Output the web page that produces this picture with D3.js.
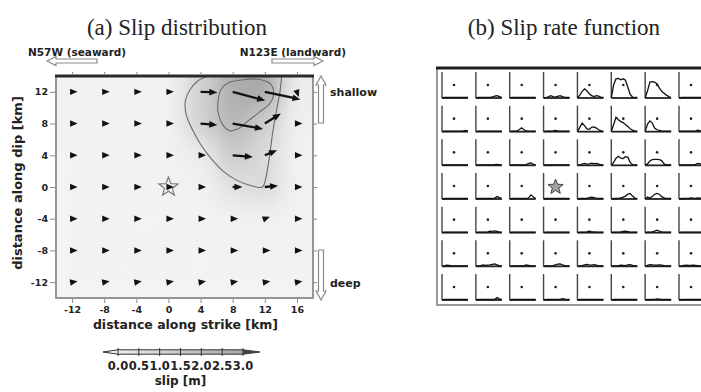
<!DOCTYPE html>
<html><head><meta charset="utf-8">
<script src="https://cdn.jsdelivr.net/npm/d3@7"></script>
<style>body{margin:0;background:#fff} svg{display:block}</style>
</head><body>
<svg id="c" width="701" height="392"></svg>
<script>
// ---------- DATA ----------
const strikeKm = [-12, -8, -4, 0, 4, 8, 12, 16];      // subfault centres along strike
const dipKm    = [12, 8, 4, 0, -4, -8, -12];           // subfault centres along dip
const xTicks = [-12, -8, -4, 0, 4, 8, 12, 16];
const yTicks = [12, 8, 4, 0, -4, -8, -12];
const slipTicks = [0, 0.5, 1.0, 1.5, 2.0, 2.5, 3.0];
const slipTickLabels = ["0.0","0.5","1.0","1.5","2.0","2.5","3.0"];

// slip amount (m) per subfault, one array per dip row
const slipRow12 = [0.12, 0.15, 0.12, 0.15, 1.2, 2.4, 2.6, 0.3];
const slipRow8  = [0.12, 0.12, 0.12, 0.12, 1.2, 2.2, 1.35, 0.2];
const slipRow4  = [0.1, 0.12, 0.1, 0.12, 0.3, 1.45, 0.95, 0.15];
const slipRow0  = [0.1, 0.15, 0.12, 0.12, 0.12, 0.7, 0.95, 0.12];
const slipRowM4 = [0.1, 0.12, 0.1, 0.1, 0.12, 0.12, 0.2, 0.12];
const slipRowM8 = [0.1, 0.12, 0.1, 0.12, 0.1, 0.12, 0.12, 0.12];
const slipRowM12= [0.1, 0.1, 0.1, 0.1, 0.1, 0.1, 0.1, 0.1];
// slip direction on the map (deg, 0 = toward N123E, positive = toward deep side)
const dirRow12  = [0, 0, 0, 0, 2, 15, 12, 70];
const dirRow8   = [0, 0, 0, 0, 5, 10, -32, 0];
const dirRow4   = [0, 0, 0, 0, 0, 5, -22, 0];
const dirRow0   = [0, 0, 0, 0, 0, 0, -5, 0];
const dirRowM4  = [0, 0, 0, 0, 0, 0, -20, 0];
const dirRowM8  = [0, 0, 0, 0, 0, 0, 0, 0];
const dirRowM12 = [-10, -10, -10, -10, -10, -10, -10, -10];

const hypocenter = [0, 0];
// slip contour lines (km)
const outerContour = [[4.9,14],[3.7,13.4],[2.7,12.3],[2.1,10.8],[2.2,9.2],[2.9,7.4],[4.0,5.4],[5.3,3.6],[6.8,2.0],[8.4,0.9],[10.0,0.25],[11.7,0.0],[12.2,1.5],[12.6,4.0],[13.0,7.0],[13.5,9.9],[13.9,12.1],[14.1,14]];
const innerContour = [[9.1,13.5],[7.6,13.2],[6.6,12.4],[6.2,11.0],[6.2,9.3],[6.8,7.8],[7.6,7.1],[8.6,7.3],[10.0,8.4],[11.4,9.5],[12.6,10.5],[13.1,11.7],[12.7,13.0],[11.2,13.6]];

// slip-rate functions (normalised), one array of cells per dip row
const srfRow12 = [
 [0,0.02,0.02,0.02,0.02,0.02,0.02,0.02,0.02,0.02,0.02,0.02],
 [0,0.02,0.02,0.02,0.02,0.02,0.03,0.05,0.08,0.1,0.06,0.02],
 [0,0.02,0.02,0.02,0.02,0.02,0.02,0.02,0.02,0.02,0.02,0.02],
 [0,0.02,0.05,0.1,0.06,0.04,0.07,0.1,0.06,0.03,0.02,0.02],
 [0,0.12,0.28,0.38,0.3,0.18,0.1,0.06,0.1,0.08,0.03,0.02],
 [0,0.55,0.8,0.82,0.76,0.8,0.74,0.45,0.15,0.04,0.02,0.02],
 [0,0.3,0.66,0.68,0.66,0.6,0.42,0.28,0.2,0.12,0.06,0.02],
 [0,0.02,0.02,0.02,0.02,0.02,0.02,0.02,0.02,0.02,0.02,0.02]];
const srfRow8 = [
 [0,0.02,0.02,0.02,0.02,0.02,0.02,0.02,0.02,0.03,0.05,0.02],
 [0,0.02,0.02,0.02,0.02,0.02,0.02,0.02,0.02,0.02,0.02,0.02],
 [0,0.02,0.02,0.03,0.08,0.16,0.08,0.03,0.02,0.02,0.02,0.02],
 [0,0.02,0.02,0.02,0.03,0.05,0.03,0.02,0.02,0.02,0.02,0.02],
 [0,0.18,0.36,0.25,0.12,0.1,0.18,0.2,0.15,0.08,0.03,0.02],
 [0,0.3,0.6,0.5,0.42,0.38,0.3,0.22,0.12,0.06,0.02,0.02],
 [0,0.32,0.45,0.36,0.15,0.08,0.05,0.03,0.02,0.02,0.02,0.02],
 [0,0.02,0.02,0.02,0.02,0.02,0.02,0.03,0.06,0.03,0.02,0.02]];
const srfRow4 = [
 [0,0.02,0.02,0.02,0.02,0.02,0.02,0.02,0.02,0.02,0.02,0.02],
 [0,0.02,0.02,0.02,0.02,0.02,0.02,0.02,0.03,0.04,0.02,0.02],
 [0,0.02,0.02,0.02,0.02,0.02,0.02,0.03,0.08,0.1,0.04,0.02],
 [0,0.02,0.02,0.02,0.02,0.02,0.02,0.02,0.02,0.02,0.02,0.02],
 [0,0.02,0.05,0.08,0.05,0.06,0.09,0.07,0.08,0.05,0.02,0.02],
 [0,0.12,0.3,0.38,0.3,0.28,0.36,0.34,0.12,0.03,0.02,0.02],
 [0,0.06,0.18,0.24,0.25,0.25,0.24,0.2,0.06,0.02,0.02,0.02],
 [0,0.02,0.02,0.02,0.02,0.02,0.02,0.04,0.08,0.06,0.02,0.02]];
const srfRow0 = [
 [0,0.02,0.02,0.02,0.02,0.02,0.02,0.02,0.02,0.02,0.02,0.02],
 [0,0.02,0.02,0.02,0.02,0.02,0.02,0.02,0.04,0.1,0.06,0.02],
 [0,0.02,0.02,0.02,0.02,0.02,0.02,0.02,0.05,0.17,0.08,0.02],
 [0,0.02,0.02,0.02,0.02,0.02,0.02,0.02,0.02,0.02,0.02,0.02],
 [0,0.02,0.02,0.02,0.03,0.06,0.08,0.06,0.04,0.03,0.02,0.02],
 [0,0.02,0.02,0.03,0.05,0.08,0.12,0.2,0.23,0.12,0.04,0.02],
 [0,0.08,0.04,0.1,0.2,0.23,0.2,0.1,0.05,0.03,0.02,0.02],
 [0,0.02,0.02,0.02,0.03,0.05,0.04,0.03,0.05,0.04,0.02,0.02]];
const srfRowM4 = [
 [0,0.02,0.02,0.02,0.02,0.02,0.02,0.02,0.02,0.02,0.02,0.02],
 [0,0.02,0.02,0.02,0.02,0.03,0.06,0.05,0.07,0.05,0.02,0.02],
 [0,0.02,0.02,0.02,0.02,0.02,0.02,0.02,0.02,0.02,0.02,0.02],
 [0,0.02,0.02,0.02,0.02,0.02,0.02,0.02,0.02,0.02,0.02,0.02],
 [0,0.02,0.02,0.02,0.03,0.06,0.04,0.03,0.02,0.02,0.02,0.02],
 [0,0.02,0.02,0.02,0.03,0.05,0.06,0.04,0.02,0.02,0.02,0.02],
 [0,0.02,0.02,0.03,0.06,0.1,0.06,0.03,0.02,0.02,0.02,0.02],
 [0,0.02,0.02,0.02,0.02,0.02,0.02,0.02,0.02,0.02,0.02,0.02]];
const srfRowM8 = [
 [0,0.02,0.05,0.04,0.02,0.02,0.02,0.02,0.02,0.02,0.02,0.02],
 [0,0.02,0.03,0.06,0.04,0.05,0.06,0.08,0.1,0.06,0.02,0.02],
 [0,0.02,0.02,0.02,0.02,0.02,0.03,0.06,0.04,0.02,0.02,0.02],
 [0,0.02,0.02,0.02,0.03,0.06,0.09,0.1,0.06,0.03,0.02,0.02],
 [0,0.02,0.03,0.06,0.08,0.06,0.05,0.07,0.05,0.02,0.02,0.02],
 [0,0.02,0.02,0.03,0.05,0.04,0.03,0.06,0.07,0.04,0.02,0.02],
 [0,0.04,0.07,0.06,0.05,0.05,0.06,0.05,0.03,0.02,0.02,0.02],
 [0,0.02,0.04,0.05,0.04,0.04,0.05,0.04,0.03,0.02,0.02,0.02]];
const srfRowM12 = [
 [0,0.02,0.02,0.02,0.02,0.02,0.02,0.02,0.02,0.02,0.02,0.02],
 [0,0.02,0.02,0.02,0.02,0.02,0.02,0.02,0.03,0.1,0.05,0.02],
 [0,0.02,0.02,0.02,0.02,0.02,0.02,0.02,0.02,0.02,0.02,0.02],
 [0,0.02,0.02,0.02,0.02,0.02,0.02,0.03,0.06,0.04,0.02,0.02],
 [0,0.02,0.02,0.02,0.02,0.02,0.02,0.02,0.02,0.02,0.02,0.02],
 [0,0.02,0.02,0.02,0.02,0.02,0.02,0.02,0.02,0.02,0.02,0.02],
 [0,0.02,0.02,0.02,0.03,0.05,0.04,0.03,0.02,0.02,0.02,0.02],
 [0,0.02,0.02,0.02,0.02,0.02,0.02,0.02,0.02,0.02,0.02,0.02]];

const slipRows = [slipRow12, slipRow8, slipRow4, slipRow0, slipRowM4, slipRowM8, slipRowM12];
const dirRows  = [dirRow12, dirRow8, dirRow4, dirRow0, dirRowM4, dirRowM8, dirRowM12];
const srfRows  = [srfRow12, srfRow8, srfRow4, srfRow0, srfRowM4, srfRowM8, srfRowM12];

// ---------- DRAW ----------
const svg = d3.select("#c");
const defs = svg.append("defs");
svg.append("rect").attr("width",701).attr("height",392).attr("fill","#fff");

const SANS = "'DejaVu Sans', sans-serif";
const SERIF = "'Liberation Serif', 'DejaVu Serif', serif";

const x = d3.scaleLinear().domain([-14, 18]).range([56, 313]);
const y = d3.scaleLinear().domain([-14, 14]).range([298, 76]);
const grey = d3.scaleLinear().domain([0, 3]).range(["#f6f6f6", "#9c9c9c"]);

// titles
svg.append("text").attr("x", 177).attr("y", 35).attr("text-anchor","middle")
  .attr("font-family", SERIF).attr("font-size", 23).attr("fill","#222").text("(a) Slip distribution");
svg.append("text").attr("x", 564).attr("y", 35).attr("text-anchor","middle")
  .attr("font-family", SERIF).attr("font-size", 23).attr("fill","#222").text("(b) Slip rate function");

// shaded slip field
defs.append("clipPath").attr("id","frameClip").append("rect")
  .attr("x", x(-14)).attr("y", y(14)).attr("width", x(18)-x(-14)).attr("height", y(-14)-y(14));
const blur = defs.append("filter").attr("id","blur").attr("filterUnits","userSpaceOnUse")
  .attr("x",0).attr("y",30).attr("width",380).attr("height",320);
blur.append("feGaussianBlur").attr("stdDeviation", 11);

const cells = [];
slipRows.forEach((row, i) => row.forEach((s, j) => cells.push({sx: strikeKm[j], sy: dipKm[i], s, dir: dirRows[i][j], i, j})));

const shade = svg.append("g").attr("clip-path","url(#frameClip)").append("g").attr("filter","url(#blur)");
shade.selectAll("rect").data(cells).join("rect")
  .attr("x", d => x(d.sx - 2) - (d.j === 0 ? 40 : 0))
  .attr("y", d => y(d.sy + 2) - (d.i === 0 ? 40 : 0))
  .attr("width", d => x(d.sx + 2) - x(d.sx - 2) + (d.j === 0 || d.j === 7 ? 40 : 0) + 0.5)
  .attr("height", d => y(d.sy - 2) - y(d.sy + 2) + (d.i === 0 || d.i === 6 ? 40 : 0) + 0.5)
  .attr("fill", d => grey(d.s));

// contours
const cg = svg.append("g").attr("clip-path","url(#frameClip)");
cg.append("path").datum(outerContour)
  .attr("d", d3.line().x(d => x(d[0])).y(d => y(d[1])).curve(d3.curveCatmullRom.alpha(0.5)))
  .attr("fill","none").attr("stroke","#6a6a6a").attr("stroke-width",1.1);
cg.append("path").datum(innerContour)
  .attr("d", d3.line().x(d => x(d[0])).y(d => y(d[1])).curve(d3.curveCatmullRomClosed.alpha(0.5)))
  .attr("fill","none").attr("stroke","#6a6a6a").attr("stroke-width",1.1);

// frame
svg.append("rect").attr("x", x(-14)).attr("y", y(14)).attr("width", x(18)-x(-14)).attr("height", y(-14)-y(14))
  .attr("fill","none").attr("stroke","#959595").attr("stroke-width",2);
svg.append("line").attr("x1", x(-14)-1).attr("x2", x(18)+1).attr("y1", y(14)).attr("y2", y(14))
  .attr("stroke","#2a2a2a").attr("stroke-width",3);

// axes
function styleAxis(g, labels) {
  g.select(".domain").remove();
  g.selectAll(".tick line").attr("stroke","#8a8a8a").attr("stroke-width",1);
  g.selectAll(".tick text").attr("font-family", SANS).attr("font-weight","bold")
    .attr("font-size", 9.5).attr("fill","#222");
  if (!labels) g.selectAll(".tick text").remove();
}
const fmt = d => String(d);
svg.append("g").attr("transform",`translate(${x(-14)-1},0)`)
  .call(d3.axisLeft(y).tickValues(yTicks).tickSize(5).tickPadding(2).tickFormat(fmt)).call(g => styleAxis(g, true));
svg.append("g").attr("transform",`translate(0,${y(-14)+1})`)
  .call(d3.axisBottom(x).tickValues(xTicks).tickSize(4).tickPadding(3).tickFormat(fmt)).call(g => styleAxis(g, true));
svg.append("g").attr("transform",`translate(0,${y(14)-1})`)
  .call(d3.axisTop(x).tickValues(xTicks).tickSize(3)).call(g => styleAxis(g, false));
svg.append("g").attr("transform",`translate(${x(18)+1},0)`)
  .call(d3.axisRight(y).tickValues(yTicks).tickSize(3)).call(g => styleAxis(g, false));

// axis titles
svg.append("text").attr("x", (x(-14)+x(18))/2 + 1).attr("y", 329).attr("text-anchor","middle")
  .attr("font-family", SANS).attr("font-weight","bold").attr("font-size", 12.5).attr("fill","#222")
  .text("distance along strike [km]");
svg.append("text").attr("transform",`translate(22,${(y(14)+y(-14))/2 - 4}) rotate(-90)`).attr("text-anchor","middle")
  .attr("font-family", SANS).attr("font-weight","bold").attr("font-size", 13).attr("fill","#222")
  .text("distance along dip [km]");

// hypocentre star
function starPath(cx, cy, ro, ri) {
  const pts = d3.range(10).map(k => {
    const r = k % 2 ? ri : ro, a = -Math.PI/2 + k*Math.PI/5;
    return [cx + r*Math.cos(a), cy + r*Math.sin(a)];
  });
  return "M" + pts.map(p => p.join(",")).join("L") + "Z";
}
svg.append("path").attr("d", starPath(x(hypocenter[0]), y(hypocenter[1]), 10, 4.2))
  .attr("fill","#f2f2f2").attr("stroke","#7a7a7a").attr("stroke-width",1.2);

// slip vectors
const K = 14; // px per metre of slip
const ag = svg.append("g");
cells.forEach(d => {
  const px = x(d.sx), py = y(d.sy), a = d.dir*Math.PI/180;
  const ux = Math.cos(a), uy = Math.sin(a), nx = -uy, ny = ux;
  const L = d.s*K;
  let tip, base, hw;
  if (L > 9) {
    tip = [px + ux*L, py + uy*L];
    base = [px + ux*(L-8), py + uy*(L-8)];
    hw = 3.3;
    ag.append("line").attr("x1",px).attr("y1",py).attr("x2",base[0]+ux).attr("y2",base[1]+uy)
      .attr("stroke","#111").attr("stroke-width",2.3);
  } else {
    tip = [px + ux*5.5, py + uy*5.5];
    base = [px - ux*2, py - uy*2];
    hw = 3.2;
  }
  ag.append("path").attr("d", `M${tip}L${base[0]+nx*hw},${base[1]+ny*hw}L${base[0]-nx*hw},${base[1]-ny*hw}Z`)
    .attr("fill","#111");
});

// hollow direction arrows
function hollowArrow(x0, y0, x1, y1, sw, hw, hl) {
  const dx = x1-x0, dy = y1-y0, len = Math.hypot(dx,dy), ux = dx/len, uy = dy/len, nx = -uy, ny = ux;
  const b = [x1 - ux*hl, y1 - uy*hl];
  const P = [
    [x0 + nx*sw, y0 + ny*sw], [b[0] + nx*sw, b[1] + ny*sw], [b[0] + nx*hw, b[1] + ny*hw], [x1, y1],
    [b[0] - nx*hw, b[1] - ny*hw], [b[0] - nx*sw, b[1] - ny*sw], [x0 - nx*sw, y0 - ny*sw]];
  svg.append("path").attr("d", "M" + P.map(p => p.join(",")).join("L") + "Z")
    .attr("fill","#fff").attr("stroke","#8a8a8a").attr("stroke-width",1.2);
}
hollowArrow(97, 61, 47, 61, 2, 4.5, 9);
hollowArrow(272, 61, 323, 61, 2, 4.5, 9);
hollowArrow(321, 123, 321, 76, 2.5, 5, 9);
hollowArrow(321, 250, 321, 300, 2.5, 5, 9);

const lab = (t, xx, yy, anchor, size) => svg.append("text").attr("x",xx).attr("y",yy).attr("text-anchor",anchor)
  .attr("font-family",SANS).attr("font-weight","bold").attr("font-size",size).attr("fill","#222").text(t);
lab("N57W (seaward)", 28, 56, "start", 10.5);
lab("N123E (landward)", 346, 56, "end", 10.5);
lab("shallow", 330, 96, "start", 11);
lab("deep", 330, 287, "start", 11);

// colour bar
const cb = d3.scaleLinear().domain([0, 3]).range([118, 243]);
const grad = defs.append("linearGradient").attr("id","cbGrad");
grad.append("stop").attr("offset","0%").attr("stop-color", grey(0));
grad.append("stop").attr("offset","100%").attr("stop-color", grey(3));
const cby = 352;
svg.append("path").attr("d", `M${cb(0)},${cby-2.2}L${cb(3)},${cby-2.2}L${cb(3)+17},${cby}L${cb(3)},${cby+2.2}L${cb(0)},${cby+2.2}L${cb(0)-15},${cby}Z`)
  .attr("fill","url(#cbGrad)").attr("stroke","#333").attr("stroke-width",1);
svg.append("path").attr("d", `M${cb(3)},${cby-2.2}L${cb(3)+17},${cby}L${cb(3)},${cby+2.2}Z`).attr("fill","#444");
svg.selectAll(".cbt").data(slipTicks).join("line").attr("class","cbt")
  .attr("x1", d => cb(d)).attr("x2", d => cb(d)).attr("y1", cby-4).attr("y2", cby+4)
  .attr("stroke","#333").attr("stroke-width",1);
svg.selectAll(".cbl").data(slipTicks).join("text").attr("class","cbl")
  .attr("x", d => cb(d)).attr("y", 370).attr("text-anchor","middle")
  .attr("font-family",SANS).attr("font-weight","bold").attr("font-size",11.5).attr("fill","#222")
  .text((d, k) => slipTickLabels[k]);
lab("slip [m]", cb(1.5), 385, "middle", 12);

// ---------- (b) slip rate functions ----------
const colX = d3.scaleLinear().domain([0, 7]).range([442, 679]);
const rowB = d3.scaleLinear().domain([0, 6]).range([98, 300]);
const CW = 26, CH = 26;

svg.append("line").attr("x1",437).attr("x2",437).attr("y1",68).attr("y2",305).attr("stroke","#9a9a9a").attr("stroke-width",2);
svg.append("line").attr("x1",436).attr("x2",701).attr("y1",305).attr("y2",305).attr("stroke","#9a9a9a").attr("stroke-width",2);
svg.append("line").attr("x1",436).attr("x2",701).attr("y1",68).attr("y2",68).attr("stroke","#1e1e1e").attr("stroke-width",3);

const bg = svg.append("g");
srfRows.forEach((row, i) => row.forEach((vals, j) => {
  const x0 = colX(j), yb = rowB(i);
  const tx = d3.scaleLinear().domain([0, vals.length-1]).range([x0, x0 + CW]);
  const ty = d3.scaleLinear().domain([0, 1]).range([yb, yb - CH + 2]);
  bg.append("line").attr("x1",x0).attr("x2",x0).attr("y1",yb).attr("y2",yb-CH).attr("stroke","#444").attr("stroke-width",1.4);
  bg.append("line").attr("x1",x0).attr("x2",x0+CW).attr("y1",yb).attr("y2",yb).attr("stroke","#222").attr("stroke-width",1.8);
  bg.append("path").datum(vals).attr("d", d3.line().x((v,k) => tx(k)).y(v => ty(v)))
    .attr("fill","none").attr("stroke","#111").attr("stroke-width",1.3);
  bg.append("circle").attr("cx", x0 + 12).attr("cy", yb - 13).attr("r", 1.3).attr("fill","#222");
}));
// hypocentre star in (b)
const hi = dipKm.indexOf(hypocenter[1]), hj = strikeKm.indexOf(hypocenter[0]);
svg.append("path").attr("d", starPath(colX(hj) + 12, rowB(hi) - 12, 8, 3.4))
  .attr("fill","#a0a0a0").attr("stroke","#444").attr("stroke-width",1);
</script>
</body></html>
